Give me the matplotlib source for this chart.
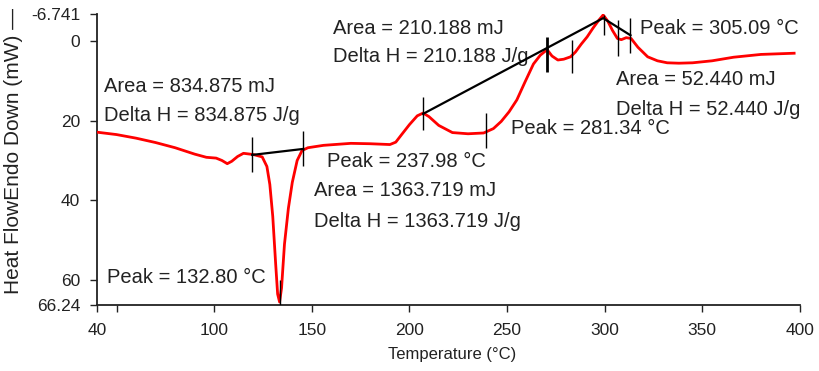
"""DSC thermogram: heat flow vs temperature with integrated peak annotations."""

import matplotlib

matplotlib.use("Agg")
import matplotlib.pyplot as plt

plt.rcParams["font.family"] = ["Liberation Sans", "DejaVu Sans"]

# Heat flow curve (endo down).
temperature = [
    40, 50, 60, 70, 80, 90, 96, 101, 104, 106.7, 109, 112, 115, 120, 124.6,
    127, 128.5, 130, 131.5, 132.5, 133.5, 134.5, 136, 138, 140, 142.5, 145,
    148, 156, 170, 180, 190, 193, 196, 200, 204, 207, 210, 215, 222, 230, 238,
    243, 247, 251, 255, 259, 263.5, 267, 270.5, 273, 276, 279, 282.5, 285, 288,
    291, 294, 297, 299.2, 301.5, 304, 306.5, 308.5, 311, 313.5, 317, 322, 327,
    332, 338, 345, 355, 366, 380, 397,
]
heat_flow = [
    22.9, 23.5, 24.4, 25.5, 26.8, 28.4, 29.2, 29.4, 30.0, 30.8, 30.2, 29.0,
    28.2, 28.5, 29.1, 31.5, 36.0, 44.0, 56.0, 63.5, 65.5, 62.0, 51.0, 42.0,
    35.5, 30.0, 27.5, 26.8, 26.2, 25.7, 25.8, 26.0, 25.4, 23.5, 21.0, 18.8,
    18.1, 19.0, 21.2, 23.0, 23.3, 23.1, 22.0, 20.2, 17.8, 14.8, 10.5, 5.8,
    3.6, 2.2, 3.8, 4.8, 4.6, 4.0, 2.8, 0.8, -1.0, -3.2, -5.2, -6.5, -5.0,
    -2.6, -0.6, -0.3, -0.8, -0.6, 1.6, 4.0, 5.0, 5.5, 5.6, 5.5, 5.0, 4.1,
    3.4, 3.1,
]

# Integration baselines.
base1_t = [119.5, 145.6]
base1_y = [28.6, 27.1]
base2_t = [207.0, 299.2, 313.2]
base2_y = [18.3, -5.7, -1.4]

# Vertical limit / peak markers: temperature, top, bottom.
marker_t = [119.5, 145.6, 133.5, 207.0, 239.4, 270.5, 283.3, 299.5, 307.0, 313.2]
marker_top = [24.0, 22.7, 60.0, 14.0, 18.0, -1.0, -0.2, -6.5, -5.3, -5.7]
marker_bot = [32.8, 31.5, 66.24, 22.3, 26.8, 7.7, 8.0, -1.5, 3.9, 3.1]
marker_lw = [1, 1, 1, 1, 1, 2, 1, 1, 1, 1]

y_ticks = [-6.741, 0, 20, 40, 60, 66.24]
y_ticklabels = ["-6.741", "0", "20", "40", "60", "66.24"]
x_ticks = [40, 50, 100, 150, 200, 250, 300, 350, 400]
x_ticklabels = ["40", "", "100", "150", "200", "250", "300", "350", "400"]

labels = [
    "Area = 834.875 mJ", "Delta H = 834.875 J/g", "Peak = 132.80 °C",
    "Peak = 237.98 °C", "Area = 1363.719 mJ", "Delta H = 1363.719 J/g",
    "Area = 210.188 mJ", "Delta H = 210.188 J/g", "Peak = 281.34 °C",
    "Peak = 305.09 °C", "Area = 52.440 mJ", "Delta H = 52.440 J/g",
]
label_pos = [
    (43.8, 11.4), (43.8, 18.8), (45.2, 59.3),
    (158.0, 30.3), (150.9, 37.6), (150.9, 45.4),
    (161.0, -3.1), (161.0, 3.9), (252.2, 22.1),
    (318.3, -3.1), (306.0, 9.8), (306.0, 17.3),
]


def main() -> None:
    fig = plt.figure(figsize=(8.2, 3.71), dpi=100)
    ax = fig.add_axes([0.1183, 0.1779, 0.8573, 0.7844])

    ax.plot(temperature, heat_flow, color="#ff0000", linewidth=2.0, zorder=3)
    ax.plot(base1_t, base1_y, color="black", linewidth=1.6, zorder=4)
    ax.plot(base2_t, base2_y, color="black", linewidth=1.6, zorder=4)
    for t, top, bot, lw in zip(marker_t, marker_top, marker_bot, marker_lw):
        ax.vlines(t, top, bot, color="black", linewidth=lw, zorder=5)

    for text, (x, y) in zip(labels, label_pos):
        ax.text(x, y, text, fontsize=14.5, color="#222222", ha="left", va="center")

    ax.set_xlim(40, 400)
    ax.set_ylim(66.24, -6.741)
    ax.set_xticks(x_ticks)
    ax.set_xticklabels(x_ticklabels)
    ax.set_yticks(y_ticks)
    ax.set_yticklabels(y_ticklabels)
    ax.tick_params(axis="both", direction="out", length=5, width=1,
                   colors="#222222", labelsize=12.5)
    ax.tick_params(axis="y", pad=7)
    ax.tick_params(axis="x", pad=8)

    for side in ("top", "right"):
        ax.spines[side].set_visible(False)
    for side in ("left", "bottom"):
        ax.spines[side].set_color("#222222")
        ax.spines[side].set_linewidth(1.3)

    ax.set_xlabel("Temperature (°C)", fontsize=12, color="#222222")
    ax.xaxis.set_label_coords(0.505, -0.143)
    ax.xaxis.label.set_va("top")
    ax.set_ylabel("Heat FlowEndo Down (mW) —", fontsize=15, color="#222222")
    ax.yaxis.set_label_coords(-0.119, 0.53)
    ax.yaxis.label.set_va("center")

    fig.savefig("out.png", dpi=100, facecolor="white")
    plt.close(fig)


if __name__ == "__main__":
    main()
